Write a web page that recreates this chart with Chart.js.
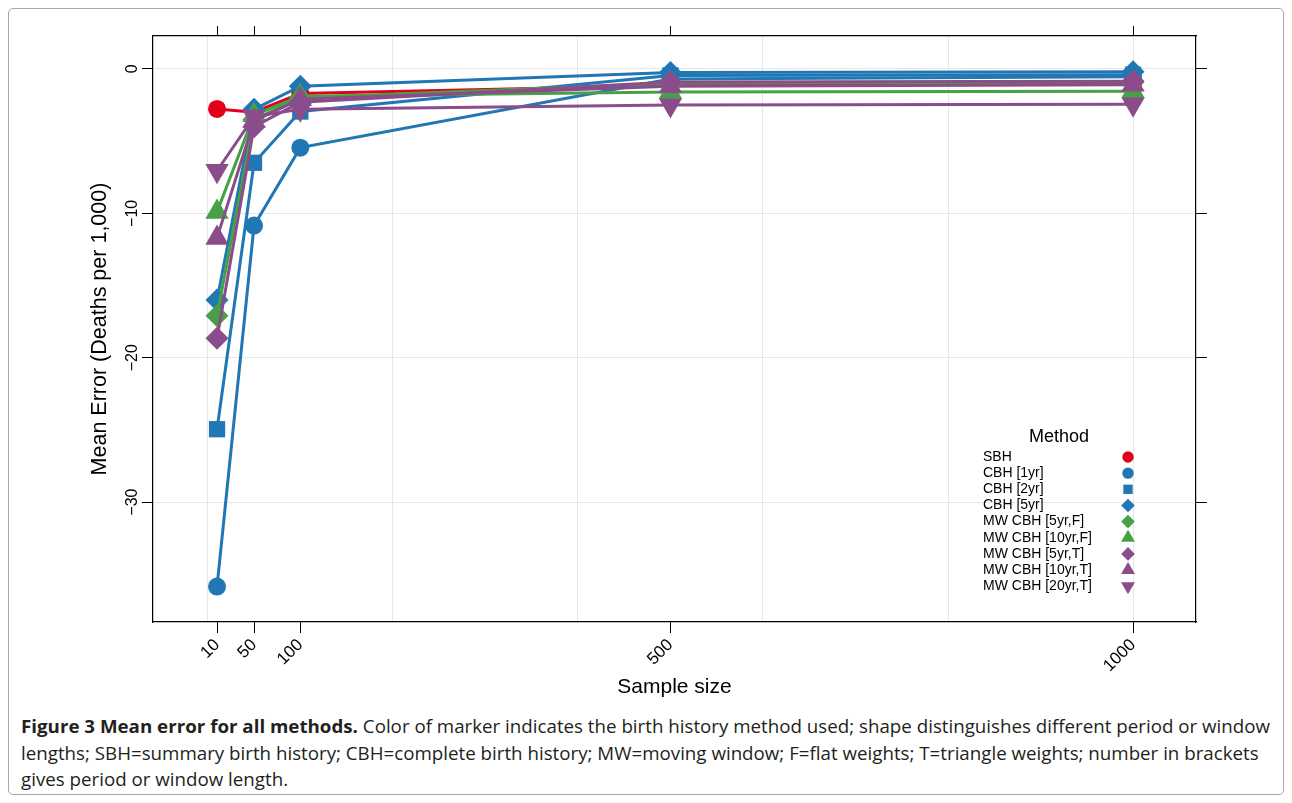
<!DOCTYPE html>
<html>
<head>
<meta charset="utf-8">
<title>Mean error for all methods</title>
<script src="https://cdn.jsdelivr.net/npm/chart.js@4/dist/chart.umd.min.js"></script>
<style>
  html, body { margin: 0; padding: 0; background: #fff; }
  body { width: 1292px; height: 803px; position: relative; overflow: hidden; }
  #frame { position: absolute; left: 8px; top: 8px; width: 1276px; height: 787px;
           border: 1px solid #a8a8a8; border-radius: 5px; box-sizing: border-box; }
  #wrap { position: absolute; left: 0; top: 0; width: 1292px; height: 710px; }
  #caption { position: absolute; left: 21px; top: 713px; font-family: "Open Sans", sans-serif;
             font-size: 18px; color: #231f20; line-height: 26.6px; }
  #caption .line { white-space: nowrap; transform-origin: 0 50%; display: inline-block; }
  #caption b { font-weight: 700; }
</style>
</head>
<body>
<div id="frame"></div>
<div id="wrap"><canvas id="chart" width="1292" height="710"></canvas></div>
<div id="caption">
  <div><span class="line"><b>Figure 3 Mean error for all methods.</b> Color of marker indicates the birth history method used; shape distinguishes different period or window</span></div>
  <div><span class="line">lengths; SBH=summary birth history; CBH=complete birth history; MW=moving window; F=flat weights; T=triangle weights; number in brackets</span></div>
  <div><span class="line">gives period or window length.</span></div>
</div>
<script>
// Sample sizes on the x axis
const sampleSizes = [10, 50, 100, 500, 1000];

// Mean error (deaths per 1,000) for each method at each sample size
const sbh   = [-2.77, -3.0, -1.7, -1.15, -1.0];
const cbh1  = [-35.85, -10.85, -5.45, -0.7, -0.55];
const cbh2  = [-24.95, -6.5, -2.95, -0.45, -0.4];
const cbh5  = [-16.0, -2.8, -1.2, -0.25, -0.2];
const mw5F  = [-17.1, -3.5, -2.0, -1.0, -0.9];
const mw10F = [-9.9, -3.2, -1.9, -1.6, -1.55];
const mw5T  = [-18.65, -4.0, -2.3, -0.9, -0.85];
const mw10T = [-11.7, -3.6, -2.1, -1.2, -1.1];
const mw20T = [-7.05, -3.3, -2.8, -2.5, -2.45];

const methodNames = ['SBH', 'CBH [1yr]', 'CBH [2yr]', 'CBH [5yr]', 'MW CBH [5yr,F]',
                     'MW CBH [10yr,F]', 'MW CBH [5yr,T]', 'MW CBH [10yr,T]', 'MW CBH [20yr,T]'];
const methodValues = [sbh, cbh1, cbh2, cbh5, mw5F, mw10F, mw5T, mw10T, mw20T];

// Tick values
const xTickValues = [10, 50, 100, 500, 1000];
const xGridValues = [0, 200, 400, 600, 800, 1000];
const yTickValues = [0, -10, -20, -30];

// Styling: colour = birth history method, shape = period / window
const RED = '#e2001a', BLUE = '#2077b4', GREEN = '#46a146', PURPLE = '#8b4c8c';
const methodColors = [RED, BLUE, BLUE, BLUE, GREEN, GREEN, PURPLE, PURPLE, PURPLE];
const methodShapes = ['circle', 'circle', 'rect', 'rectRot', 'rectRot', 'triangle', 'rectRot', 'triangle', 'triangle'];
const methodRotations = [0, 0, 0, 0, 0, 0, 0, 0, 180];
const shapeRadius = { circle: 9, rect: 11.5, rectRot: 11.5, triangle: 13.5 };
const legendRadius = { circle: 5.7, rect: 6.6, rectRot: 6.8, triangle: 8 };

const FONT = '"Liberation Sans", Arial, Helvetica, sans-serif';
const X_MIN = -59.2, X_MAX = 1068;
const Y_MIN = -38.3, Y_MAX = 2.28;

const fmtMinus = v => (v < 0 ? '\u2212' + Math.abs(v) : String(v));

const datasets = methodNames.map((name, i) => ({
  label: name,
  data: sampleSizes.map((x, j) => ({ x: x, y: methodValues[i][j] })),
  borderColor: methodColors[i],
  backgroundColor: methodColors[i],
  borderWidth: 3,
  pointStyle: methodShapes[i],
  pointRotation: methodRotations[i],
  pointRadius: shapeRadius[methodShapes[i]],
  pointBackgroundColor: methodColors[i],
  pointBorderWidth: 0,
  pointHoverRadius: shapeRadius[methodShapes[i]],
  tension: 0,
  fill: false,
  order: methodNames.length - i
}));

function setTicks(values) {
  return scale => { scale.ticks = values.map(v => ({ value: v })); };
}

// Left-hand tick labels, drawn upright along the axis (rotated 90°)
const yTickLabels = {
  id: 'yTickLabels',
  afterDraw(chart) {
    const s = chart.scales.y;
    const ctx = chart.ctx;
    ctx.save();
    ctx.font = '16px ' + FONT;
    ctx.fillStyle = '#000';
    ctx.textAlign = 'center';
    ctx.textBaseline = 'middle';
    yTickValues.forEach(v => {
      ctx.save();
      ctx.translate(s.right - 21, s.getPixelForValue(v));
      ctx.rotate(-Math.PI / 2);
      ctx.fillText(fmtMinus(v), 0, 1);
      ctx.restore();
    });
    ctx.restore();
  }
};

// Key inside the panel: label on the left, marker on the right
const methodKey = {
  id: 'methodKey',
  afterDatasetsDraw(chart) {
    const ctx = chart.ctx;
    const area = chart.chartArea;
    const textX = area.right - 213;
    const markX = area.right - 68;
    const top = area.top + 401;
    const step = 16.15;
    ctx.save();
    ctx.fillStyle = '#000';
    ctx.font = '18px ' + FONT;
    ctx.textAlign = 'center';
    ctx.textBaseline = 'middle';
    ctx.fillText('Method', area.right - 137, top);
    ctx.font = '14px ' + FONT;
    ctx.textAlign = 'left';
    chart.data.datasets.forEach((ds, i) => {
      const y = top + 20 + i * step;
      ctx.fillStyle = '#000';
      ctx.fillText(ds.label, textX, y);
      ctx.fillStyle = ds.pointBackgroundColor;
      Chart.helpers.drawPoint(ctx, {
        pointStyle: ds.pointStyle,
        rotation: ds.pointRotation,
        radius: legendRadius[ds.pointStyle],
        borderWidth: 0
      }, markX, y);
    });
    ctx.restore();
  }
};

new Chart(document.getElementById('chart'), {
  type: 'line',
  data: { datasets },
  options: {
    responsive: false,
    animation: false,
    devicePixelRatio: 1,
    layout: { padding: 0 },
    plugins: { legend: { display: false }, tooltip: { enabled: false } },
    scales: {
      x: {
        type: 'linear', position: 'bottom', min: X_MIN, max: X_MAX,
        afterBuildTicks: setTicks(xTickValues),
        afterFit: s => { s.height = 88; },
        ticks: { autoSkip: false, minRotation: 45, maxRotation: 45, padding: 2,
                 color: '#000', font: { family: FONT, size: 17 }, callback: v => String(v) },
        grid: { drawOnChartArea: false, tickLength: 11, tickColor: '#000', tickWidth: 1 },
        border: { display: true, color: '#000', width: 1.2 },
        title: { display: true, text: 'Sample size', color: '#000',
                 font: { family: FONT, size: 21 }, padding: { top: 0, bottom: 10 } }
      },
      xTop: {
        type: 'linear', position: 'top', min: X_MIN, max: X_MAX,
        afterBuildTicks: setTicks(xTickValues),
        afterFit: s => { s.height = 36; },
        ticks: { display: false },
        grid: { drawOnChartArea: false, tickLength: 10, tickColor: '#000', tickWidth: 1 },
        border: { display: true, color: '#000', width: 1.2 }
      },
      xGrid: {
        type: 'linear', position: 'top', min: X_MIN, max: X_MAX,
        afterBuildTicks: setTicks(xGridValues),
        afterFit: s => { s.height = 0; },
        ticks: { display: false },
        grid: { drawOnChartArea: true, drawTicks: false, color: '#e6e6e6', lineWidth: 1 },
        border: { display: false }
      },
      y: {
        type: 'linear', position: 'left', min: Y_MIN, max: Y_MAX,
        afterBuildTicks: setTicks(yTickValues),
        afterFit: s => { s.width = 153; },
        ticks: { display: false },
        grid: { drawOnChartArea: true, color: '#e6e6e6', lineWidth: 1,
                tickLength: 11, tickColor: '#000', tickWidth: 1 },
        border: { display: true, color: '#000', width: 1.2 },
        title: { display: true, text: 'Mean Error (Deaths per 1,000)', color: '#000',
                 font: { family: FONT, size: 21.5 }, padding: { top: 87, bottom: 0 } }
      },
      yRight: {
        type: 'linear', position: 'right', min: Y_MIN, max: Y_MAX,
        afterBuildTicks: setTicks(yTickValues),
        afterFit: s => { s.width = 96; },
        ticks: { display: false },
        grid: { drawOnChartArea: false, tickLength: 11, tickColor: '#000', tickWidth: 1 },
        border: { display: true, color: '#000', width: 1.2 }
      }
    }
  },
  plugins: [yTickLabels, methodKey]
});

// Fit the caption lines to the figure width
(function fitCaption() {
  const lines = document.querySelectorAll('#caption .line');
  const w = lines[0].getBoundingClientRect().width;
  const k = 1249 / w;
  lines.forEach(l => { l.style.transform = 'scaleX(' + k + ')'; });
})();
</script>
</body>
</html>
